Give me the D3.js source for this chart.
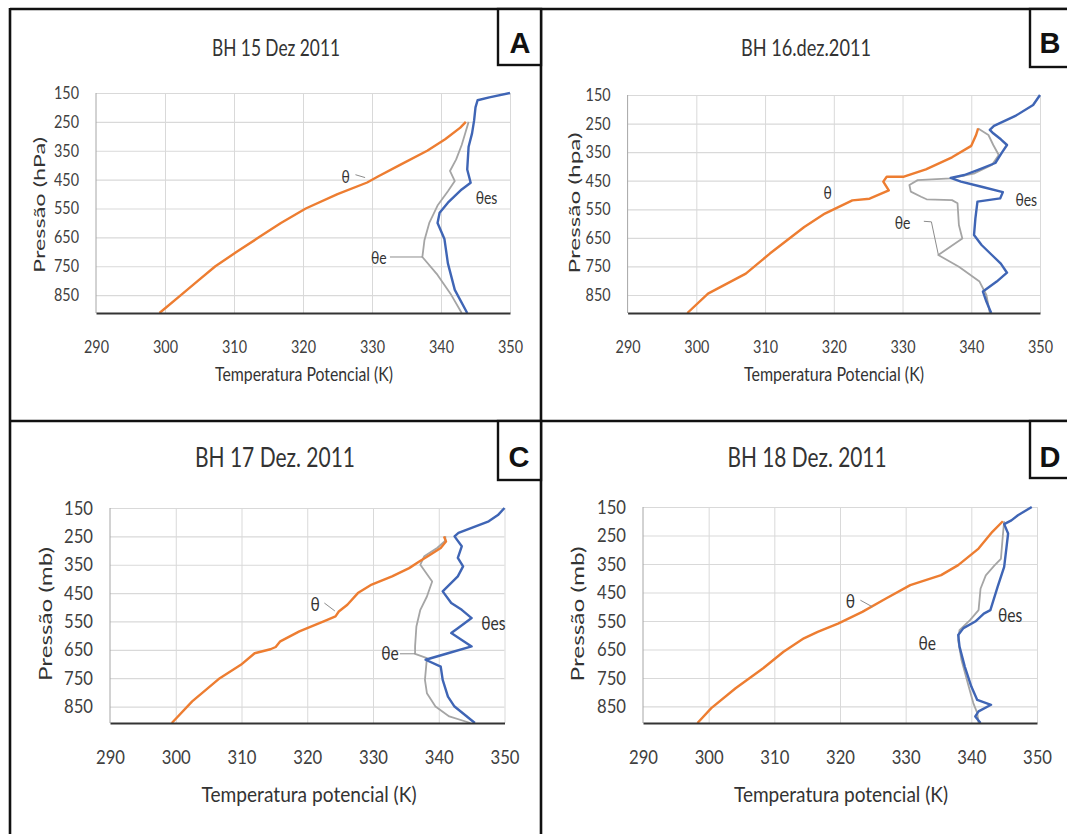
<!DOCTYPE html>
<html>
<head>
<meta charset="utf-8">
<script src="https://cdn.jsdelivr.net/npm/d3@7"></script>
<style>
  body { margin: 0; background: #fff; }
  svg { display: block; }
</style>
</head>
<body>
<svg id="chart" width="1067" height="834"></svg>
<script>
// ---------------- DATA ----------------
const xTicks = [290, 300, 310, 320, 330, 340, 350];
const pTicks = [150, 250, 350, 450, 550, 650, 750, 850];
const titles = ["BH 15 Dez 2011", "BH 16.dez.2011", "BH 17 Dez. 2011", "BH 18 Dez. 2011"];
const letters = ["A", "B", "C", "D"];
const yTitles = ["Pressão (hPa)", "Pressão (hpa)", "Pressão (mb)", "Pressão (mb)"];
const xTitles = ["Temperatura Potencial (K)", "Temperatura Potencial (K)", "Temperatura potencial (K)", "Temperatura potencial (K)"];
const seriesNames = ["θ", "θe", "θes"];

// each point: [pressure (hPa), potential temperature (K)]
const thetaA = [[912,299.2],[850,302.3],[800,304.8],[750,307.3],[700,310.4],[650,313.6],[600,316.8],[550,320.4],[500,325.0],[460,329.3],[440,330.8],[400,334.0],[350,338.0],[310,340.6],[270,342.8],[250,343.6]];
const thetaeA = [[912,343.0],[850,341.5],[780,339.5],[718,337.3],[660,337.6],[600,338.3],[540,339.5],[490,341.0],[455,342.0],[420,341.3],[380,342.2],[330,343.0],[290,343.5],[250,344.0]];
const thetaesA = [[912,343.8],[832,342.0],[740,341.0],[656,340.5],[600,339.5],[565,339.8],[530,341.0],[484,343.0],[461,344.3],[415,343.8],[336,344.0],[290,344.5],[245,344.8],[200,345.0],[175,345.3],[165,347.0],[150,350.0]];

const thetaB = [[913,298.7],[845,301.7],[775,307.2],[705,310.7],[612,315.7],[565,318.7],[519,322.7],[513,325.2],[484,328.0],[453,327.2],[436,327.7],[436,330.2],[410,333.4],[368,337.2],[328,340.0],[290,340.7],[267,341.0]];
const thetaeB = [[913,342.7],[850,342.2],[803,341.2],[751,338.2],[710,335.2],[652,338.7],[605,338.2],[529,338.0],[518,337.2],[515,333.5],[506,332.7],[488,331.2],[465,331.0],[448,332.2],[442,337.0],[424,340.5],[395,343.0],[360,344.0],[325,343.2],[290,342.5],[267,341.0]];
const thetaesB = [[913,342.9],[873,342.2],[838,341.7],[803,343.7],[772,345.2],[740,344.3],[710,343.0],[675,341.5],[640,340.4],[582,340.6],[523,340.9],[512,344.2],[490,344.6],[471,341.5],[453,338.5],[440,337.0],[430,339.0],[412,341.0],[388,343.5],[350,344.5],[325,345.2],[305,344.3],[284,343.2],[272,342.7],[258,343.3],[222,346.5],[185,349.0],[150,350.0]];

const thetaC = [[908,299.4],[832,302.5],[750,306.7],[703,309.9],[662,312.0],[648,314.4],[640,315.2],[620,315.9],[585,318.8],[550,322.5],[532,324.3],[515,324.8],[491,326.1],[450,327.7],[420,329.8],[391,332.9],[362,335.5],[338,337.1],[315,338.7],[291,340.3],[268,341.1],[250,340.8]];
const thetaeC = [[908,344.8],[885,341.6],[850,339.5],[803,338.2],[756,337.9],[679,338.2],[664,336.4],[638,336.4],[568,336.6],[509,337.2],[462,338.2],[409,339.0],[350,337.2],[320,337.8],[290,339.8],[265,341.0],[250,341.0]];
const thetaesC = [[908,345.5],[850,342.4],[815,341.4],[756,340.6],[709,340.3],[685,338.0],[662,341.4],[638,345.0],[615,343.5],[591,341.9],[574,342.9],[538,345.0],[509,343.5],[485,341.9],[444,340.6],[391,342.9],[356,343.7],[326,342.9],[285,343.5],[250,342.4],[238,343.0],[220,345.0],[197,347.6],[175,349.0],[150,350.0]];

const thetaD = [[908,298.3],[856,300.4],[786,304.1],[716,308.3],[658,311.4],[611,314.5],[588,316.6],[559,319.7],[518,323.4],[471,327.0],[424,330.7],[389,335.4],[354,338.0],[296,341.1],[237,343.2],[200,344.8]];
const thetaeD = [[908,341.1],[873,340.9],[838,340.3],[780,339.6],[687,338.5],[617,338.0],[582,338.2],[547,339.8],[512,341.1],[437,341.4],[390,342.2],[356,343.5],[332,344.5],[250,344.8],[200,345.0]];
const thetaesD = [[908,341.4],[885,340.6],[867,341.1],[844,343.0],[827,340.9],[780,340.0],[710,339.0],[640,338.2],[599,338.0],[575,338.8],[552,340.6],[524,341.9],[512,342.9],[430,344.0],[360,345.0],[302,345.3],[243,345.6],[210,345.0],[197,346.1],[179,347.1],[150,349.2]];

// ---------------- LAYOUT ----------------
const colors = ["#ED7D31", "#A5A5A5", "#3F65B5"];
const widths = [2.4, 1.8, 2.4];
const FONT = "Lato, 'Open Sans', 'DejaVu Sans', sans-serif";

const panels = [
  { series: [thetaA, thetaeA, thetaesA], x0: 96, x1: 510, yTop: 93, yBot: 313, pMax: 912,
    title: [276, 48, 128, 23], box: [498, 9, 43, 56], letter: [520, 43],
    yt: [45, 205, 136, 19], xt: [304, 381, 178, 20], fs: 17, tw: 25,
    ann: [ {t:0, T:326.2, p:441, lead:[[327.6,433],[329.0,443]]},
           {t:1, T:331.0, p:722, lead:[[332.6,718],[337.3,718]]},
           {t:2, T:346.6, p:514} ] },
  { series: [thetaB, thetaeB, thetaesB], x0: 627.6, x1: 1040, yTop: 95, yBot: 313, pMax: 913,
    title: [806, 48, 130, 23], box: [1030, 9, 40, 58], letter: [1050, 43],
    yt: [580, 203, 141, 19], xt: [834, 381, 180, 20], fs: 17, tw: 25,
    ann: [ {t:0, T:319.1, p:493},
           {t:1, T:330.0, p:598, lead:[[333.1,592],[334.2,594],[335.2,708]]},
           {t:2, T:348.0, p:517} ] },
  { series: [thetaC, thetaeC, thetaesC], x0: 110, x1: 504.5, yTop: 508, yBot: 723, pMax: 908,
    title: [275, 458, 160, 27], box: [498, 421, 43, 59], letter: [519, 457],
    yt: [52, 614, 134, 21], xt: [309, 802, 215, 22], fs: 19, tw: 29,
    ann: [ {t:0, T:321.2, p:491, lead:[[322.6,485],[324.2,513]]},
           {t:1, T:332.6, p:662, lead:[[334.1,664],[336.4,664]]},
           {t:2, T:348.3, p:556} ] },
  { series: [thetaD, thetaeD, thetaesD], x0: 643, x1: 1037, yTop: 507, yBot: 723, pMax: 908,
    title: [807, 458, 159, 27], box: [1030, 421, 40, 57], letter: [1050, 457],
    yt: [584, 614, 135, 21], xt: [841, 802, 214, 22], fs: 19, tw: 29,
    ann: [ {t:0, T:321.6, p:482, lead:[[323.1,477],[324.9,500]]},
           {t:1, T:333.3, p:628},
           {t:2, T:345.9, p:529} ] }
];

const svg = d3.select("#chart");

function squeeze(sel, f) {
  sel.each(function () {
    const L = this.getComputedTextLength();
    d3.select(this).attr("textLength", L * f).attr("lengthAdjust", "spacingAndGlyphs");
  });
}
function fitTo(sel, w) {
  sel.attr("textLength", w).attr("lengthAdjust", "spacingAndGlyphs");
}

// panel frame lines
const frame = svg.append("g").attr("stroke", "#111").attr("stroke-width", 2.6);
frame.append("line").attr("x1", 10).attr("y1", 9).attr("x2", 1067).attr("y2", 9);
frame.append("line").attr("x1", 10).attr("y1", 421).attr("x2", 1067).attr("y2", 421);
frame.append("line").attr("x1", 10).attr("y1", 8).attr("x2", 10).attr("y2", 834);
frame.append("line").attr("x1", 541).attr("y1", 8).attr("x2", 541).attr("y2", 834);

panels.forEach((cfg, i) => {
  const x = d3.scaleLinear().domain([290, 350]).range([cfg.x0, cfg.x1]);
  const y = d3.scaleLinear().domain([150, cfg.pMax]).range([cfg.yTop, cfg.yBot]);
  const g = svg.append("g");

  // vertical gridlines
  g.append("g")
    .attr("transform", `translate(0,${cfg.yBot})`)
    .call(d3.axisBottom(x).tickValues(xTicks.slice(1)).tickSize(-(cfg.yBot - cfg.yTop)).tickFormat(""))
    .call(s => s.select(".domain").remove())
    .selectAll("line").attr("stroke", "#d9d9d9").attr("stroke-width", 1);
  // horizontal gridlines
  g.append("g")
    .attr("transform", `translate(${cfg.x0},0)`)
    .call(d3.axisLeft(y).tickValues(pTicks).tickSize(-(cfg.x1 - cfg.x0)).tickFormat(""))
    .call(s => s.select(".domain").remove())
    .selectAll("line").attr("stroke", "#d9d9d9").attr("stroke-width", 1.2);

  // left axis line
  g.append("line").attr("x1", cfg.x0).attr("x2", cfg.x0)
    .attr("y1", y(150)).attr("y2", cfg.yBot)
    .attr("stroke", "#a6a6a6").attr("stroke-width", 1);

  // series lines
  const line = d3.line().x(d => x(d[1])).y(d => y(d[0]));
  [1, 2, 0].forEach(k => {
    g.append("path").datum(cfg.series[k])
      .attr("d", line)
      .attr("fill", "none")
      .attr("stroke", colors[k])
      .attr("stroke-width", widths[k])
      .attr("stroke-linejoin", "round");
  });

  // bottom axis
  const ax = g.append("g")
    .attr("transform", `translate(0,${cfg.yBot})`)
    .call(d3.axisBottom(x).tickValues(xTicks).tickSize(0).tickFormat(d3.format("d")));
  ax.attr("font-family", FONT).attr("font-size", cfg.fs);
  ax.select(".domain").attr("stroke", "#333").attr("stroke-width", 2.2);
  ax.selectAll("text").attr("y", 34).attr("dy", "0.35em").attr("fill", "#404040");
  fitTo(ax.selectAll("text"), cfg.tw);

  // left tick labels
  const ay = g.append("g")
    .attr("transform", `translate(${cfg.x0},0)`)
    .call(d3.axisLeft(y).tickValues(pTicks).tickSize(0).tickPadding(17).tickFormat(d3.format("d")));
  ay.attr("font-family", FONT).attr("font-size", cfg.fs);
  ay.select(".domain").remove();
  ay.selectAll("text").attr("fill", "#404040");
  fitTo(ay.selectAll("text"), cfg.tw);

  // title
  const t = g.append("text")
    .attr("x", cfg.title[0]).attr("y", cfg.title[1]).attr("dy", "0.35em")
    .attr("text-anchor", "middle").attr("font-family", FONT)
    .attr("font-size", cfg.title[3]).attr("fill", "#333")
    .text(titles[i]);
  fitTo(t, cfg.title[2]);

  // x-axis title
  const xt = g.append("text")
    .attr("x", cfg.xt[0]).attr("y", cfg.xt[1])
    .attr("text-anchor", "middle").attr("font-family", FONT)
    .attr("font-size", cfg.xt[3]).attr("fill", "#333")
    .text(xTitles[i]);
  fitTo(xt, cfg.xt[2]);

  // y-axis title
  const yt = g.append("text")
    .attr("transform", `translate(${cfg.yt[0]},${cfg.yt[1]}) scale(0.8,1) rotate(-90)`)
    .attr("text-anchor", "middle").attr("font-family", FONT)
    .attr("font-size", cfg.yt[3]).attr("fill", "#333")
    .text(yTitles[i]);
  fitTo(yt, cfg.yt[2]);

  // letter box
  g.append("rect")
    .attr("x", cfg.box[0]).attr("y", cfg.box[1]).attr("width", cfg.box[2]).attr("height", cfg.box[3])
    .attr("fill", "#fff").attr("stroke", "#111").attr("stroke-width", 2.4);
  g.append("text")
    .attr("x", cfg.letter[0]).attr("y", cfg.letter[1]).attr("dy", "0.36em")
    .attr("text-anchor", "middle")
    .attr("font-family", "'Liberation Sans', Arial, sans-serif")
    .attr("font-weight", "bold").attr("font-size", 29).attr("fill", "#111")
    .text(letters[i]);

  // series annotations
  cfg.ann.forEach(a => {
    if (a.lead) {
      g.append("path")
        .attr("d", d3.line().x(d => x(d[0])).y(d => y(d[1]))(a.lead))
        .attr("fill", "none").attr("stroke", "#8c8c8c").attr("stroke-width", 1);
    }
    const lt = g.append("text")
      .attr("x", x(a.T)).attr("y", y(a.p)).attr("dy", "0.35em")
      .attr("text-anchor", "middle").attr("font-family", FONT)
      .attr("font-size", cfg.fs).attr("fill", "#333")
      .text(seriesNames[a.t]);
    squeeze(lt, 0.82);
  });
});
</script>
</body>
</html>
